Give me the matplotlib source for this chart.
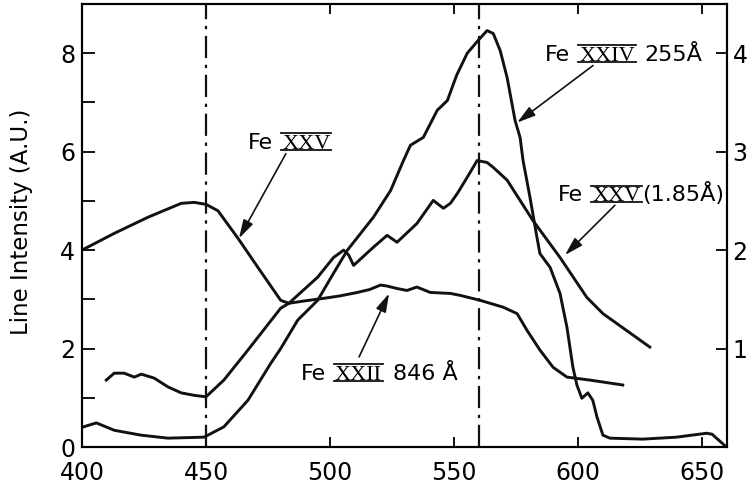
import matplotlib
matplotlib.use("Agg")
import matplotlib.pyplot as plt
from matplotlib.lines import Line2D
from matplotlib.transforms import IdentityTransform

# Fe XXIV 255 A
fe24_x = [400, 405.8, 413, 423.9, 434.7, 449.2, 457.2, 466.9, 476.1, 480.1,
          487, 495, 501.4, 507, 517.5, 524.4, 529.6, 532.4, 537.6, 543.2,
          547.3, 551, 555.3, 559.7, 563.3, 565.8, 568.6, 571.4, 574.6, 576.6,
          577.8, 580.6, 583.4, 584.6, 588.7, 592.7, 595.5, 597.9, 599.5, 601.5,
          603.9, 605.9, 607.6, 610, 612.8, 626, 639.7, 651.8, 654, 658, 659.7]
fe24_y = [0.40, 0.49, 0.34, 0.24, 0.18, 0.20, 0.41, 0.95, 1.70, 2.00,
          2.58, 2.98, 3.53, 4.00, 4.67, 5.21, 5.82, 6.13, 6.29, 6.84,
          7.04, 7.55, 8.00, 8.26, 8.46, 8.40, 8.05, 7.50, 6.63, 6.29,
          5.82, 5.07, 4.26, 3.93, 3.65, 3.12, 2.43, 1.62, 1.26, 0.99,
          1.10, 0.95, 0.61, 0.24, 0.18, 0.16, 0.20, 0.28, 0.26, 0.08, 0.0]

# Fe XXV (1.85 A)
fe25_x = [400, 413, 426.7, 440, 445.2, 450, 454.8, 462.9, 470.9, 480.1,
          483.4, 495, 501.4, 505.5, 507.5, 509.5, 517.5, 523, 527, 535,
          541.6, 545.7, 548.5, 551.3, 555.3, 559.3, 563.3, 565.8, 571.4, 581.8,
          592.7, 603.5, 610, 628.9]
fe25_y = [4.00, 4.34, 4.67, 4.95, 4.97, 4.93, 4.80, 4.24, 3.65, 2.98,
          2.92, 3.45, 3.85, 4.00, 3.90, 3.69, 4.06, 4.30, 4.16, 4.54,
          5.01, 4.85, 4.95, 5.15, 5.48, 5.82, 5.78, 5.68, 5.42, 4.60,
          3.85, 3.04, 2.71, 2.03]

# Fe XXII 846 A
fe22_x = [409.8, 413, 417, 421.1, 423.9, 429.1, 434.7, 440, 445.2, 450,
          457.2, 466.9, 480.1, 483.4, 490, 497.4, 504, 511, 516, 520.3,
          523, 527, 531, 535, 540.4, 548.5, 552.5, 560.5, 569.8, 575.4,
          579.4, 584.6, 589.9, 595.5, 604.7, 618]
fe22_y = [1.36, 1.50, 1.50, 1.42, 1.48, 1.40, 1.22, 1.10, 1.05, 1.02,
          1.36, 1.97, 2.82, 2.92, 2.97, 3.02, 3.07, 3.14, 3.20, 3.29,
          3.27, 3.22, 3.18, 3.25, 3.14, 3.12, 3.08, 2.98, 2.84, 2.71,
          2.37, 1.97, 1.62, 1.42, 1.36, 1.26]

marker_x = [450, 560]
x_ticks = [400, 450, 500, 550, 600, 650]
left_major = [0, 2, 4, 6, 8]
left_minor = [1, 3, 5, 7]
right_ticks = [1, 2, 3, 4]

# labels: (left x, baseline y), numeral, tail, arrow tail, arrow head
labels = [
    ((466.9, 6.06), "XXV", "", (482.2, 5.96), (463.3, 4.24)),
    ((586.7, 7.84), "XXIV", "255Å", (606.0, 7.75), (575.4, 6.59)),
    ((591.9, 4.99), "XXV", "(1.85Å)", (614.8, 4.91), (594.7, 3.90)),
    ((488.2, 1.37), "XXII", "846 Å", (511.7, 1.83), (523.8, 3.12)),
]
tail_gap = {"255Å": 9, "(1.85Å)": 2, "846 Å": 11, "": 0}

plt.rcParams["font.family"] = "DejaVu Sans"
fig = plt.figure(figsize=(7.5, 4.88), dpi=100)
ax = fig.add_axes([0.1093, 0.084, 0.860, 0.9078])

lc = "#111111"
ax.plot(fe24_x, fe24_y, color=lc, lw=2.1, solid_joinstyle="round")
ax.plot(fe25_x, fe25_y, color=lc, lw=2.1, solid_joinstyle="round")
ax.plot(fe22_x, fe22_y, color=lc, lw=2.1, solid_joinstyle="round")
for v in marker_x:
    ax.axvline(v, color=lc, lw=1.6, ls=(0, (10, 3, 1.5, 3)))

ax.set_xlim(400, 660)
ax.set_ylim(0, 9)
ax.set_xticks(x_ticks)
ax.set_yticks(left_major)
ax.set_yticks(left_minor, minor=True)
ax.tick_params(axis="x", direction="in", length=7, width=1.3, top=True,
               labelsize=17, pad=10)
ax.tick_params(axis="y", which="both", direction="in", length=9, width=1.3,
               labelsize=17, pad=5)
for s in ax.spines.values():
    s.set_linewidth(1.5)
ax.set_ylabel("Line Intensity (A.U.)", fontsize=16.5)
ax.yaxis.set_label_coords(-0.076, 0.508)

ax2 = ax.twinx()
ax2.set_ylim(0, 4.5)
ax2.set_yticks(right_ticks)
ax2.tick_params(axis="y", direction="in", length=8, width=1.3,
                labelsize=17, pad=4)
for s in ax2.spines.values():
    s.set_linewidth(1.5)

r = fig.canvas.get_renderer()
fs = 16
dots = fig.dpi / 72.0
for (x0, y0), num, tail, atail, ahead in labels:
    px, py = ax.transData.transform((x0, y0))
    t = ax.text(px, py, "Fe", transform=IdentityTransform(), fontsize=fs,
                ha="left", va="baseline")
    px += t.get_window_extent(r).width + 9
    n = ax.text(px, py, num, transform=IdentityTransform(), fontsize=fs,
                family="Liberation Serif", ha="left", va="baseline")
    w = n.get_window_extent(r).width
    cap = 0.66 * fs * dots
    for yy in (py - 1, py + cap + 1):
        fig.add_artist(Line2D([px - 1, px + w + 1], [yy, yy], color=lc,
                              lw=1.3, transform=IdentityTransform()))
    px += w + tail_gap[tail]
    if tail:
        ax.text(px, py, tail, transform=IdentityTransform(), fontsize=fs,
                ha="left", va="baseline")
    ax.annotate("", xy=ahead, xytext=atail,
                arrowprops=dict(arrowstyle="-|>,head_length=0.7,head_width=0.2",
                                color=lc, lw=1.2, shrinkA=0, shrinkB=0,
                                mutation_scale=16))

fig.savefig("out.png", dpi=100)
